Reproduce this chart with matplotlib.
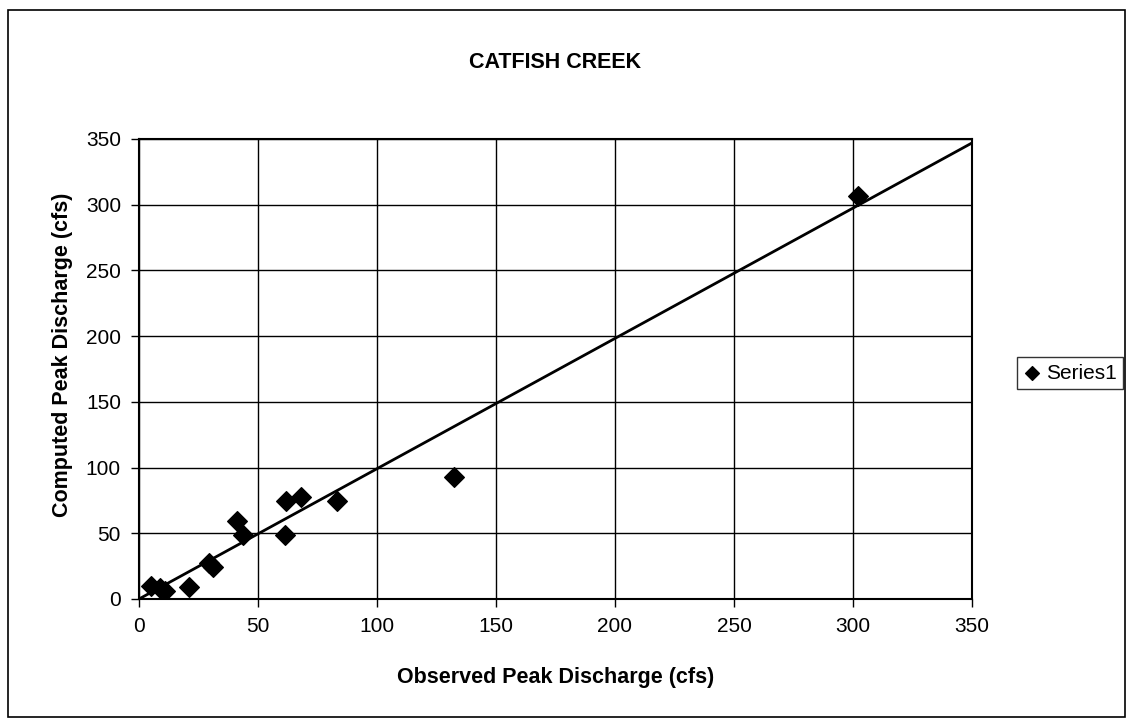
import numpy as np
import matplotlib.pyplot as plt
from matplotlib.patches import Rectangle

plt.rcParams['font.family'] = ['Liberation Sans', 'DejaVu Sans']

# observed vs computed peaks (cfs)
observed = [4.9, 9.0, 11.0, 21.0, 29.4, 31.2, 41.0, 43.8, 61.2, 61.9, 68.2, 83.3, 132.5, 302.0]
computed = [10.1, 8.0, 6.0, 9.4, 27.2, 24.6, 59.6, 48.7, 48.7, 74.6, 77.4, 74.6, 93.0, 306.5]

# equal-value reference line
line_x = [0, 350]
line_y = [0, 347]

ticks = [0, 50, 100, 150, 200, 250, 300, 350]

fig = plt.figure(figsize=(11.33, 7.27), dpi=100)
fig.patches.append(Rectangle((8 / 1133, 10 / 727), 1117 / 1133, 707 / 727,
                             transform=fig.transFigure, fill=False,
                             edgecolor='black', linewidth=1.2))

ax = fig.add_axes([139 / 1133, 128 / 727, 833 / 1133, 460 / 727])
ax.plot(line_x, line_y, color='black', linewidth=2, zorder=3)
ax.scatter(observed, computed, marker='D', s=100, color='black', zorder=4,
           label='Series1')

ax.set_xlim(0, 350)
ax.set_ylim(0, 350)
ax.set_xticks(ticks)
ax.set_yticks(ticks)
ax.tick_params(labelsize=15, length=6, width=1, color='black', pad=7)
ax.grid(True, color='black', linewidth=1)
ax.set_axisbelow(True)
for s in ax.spines.values():
    s.set_linewidth(1.5)

ax.set_xlabel('Observed Peak Discharge (cfs)', fontsize=15.5, fontweight='bold', labelpad=22)
ax.set_ylabel('Computed Peak Discharge (cfs)', fontsize=15.5, fontweight='bold')
ax.yaxis.set_label_coords(-0.079, 0.53)
fig.text(555 / 1133, 1 - 62 / 727, 'CATFISH CREEK', ha='center', va='center',
         fontsize=15.5, fontweight='bold')

leg = ax.legend(loc='center left', bbox_to_anchor=(1.054, 0.491), borderaxespad=0,
                fontsize=15, frameon=True, fancybox=False, edgecolor='black',
                handletextpad=0.3, handlelength=0.8, borderpad=0.3, markerscale=0.7)
leg.get_frame().set_linewidth(1)

fig.savefig('out.png', dpi=100)
